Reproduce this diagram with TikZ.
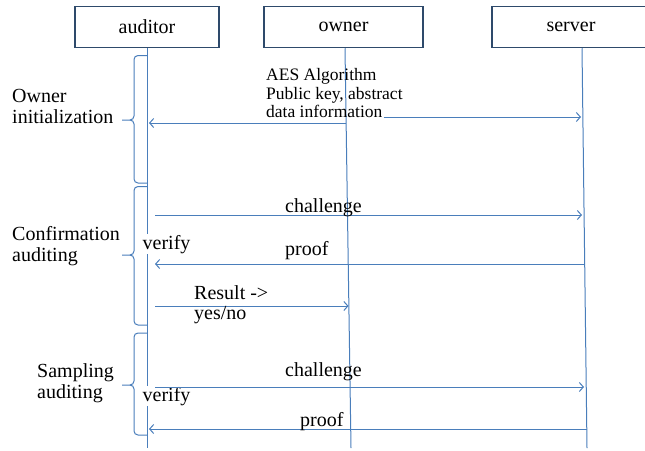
\documentclass[tikz,border=0pt]{standalone}
\usepackage{fontspec}
\setmainfont{Liberation Serif}
\usetikzlibrary{arrows.meta}
\definecolor{lineblue}{HTML}{4A7EBB}
\definecolor{boxline}{HTML}{2E4A6B}
\tikzset{
  actor/.style={draw=boxline, line width=1.5pt, fill=white, minimum height=41pt, inner sep=0pt, font=\fontsize{20}{21}\selectfont},
  lifeline/.style={draw=lineblue, line width=1pt},
  msg/.style={draw=lineblue, line width=1pt, -{Straight Barb[length=4pt,width=9pt]}},
  grp/.style={draw=lineblue, line width=1pt},
  lbl/.style={anchor=base west, inner sep=0pt, font=\fontsize{20}{21}\selectfont},
  small/.style={anchor=base west, inner sep=0pt, font=\fontsize{17.5}{18}\selectfont},
  covered/.style={lbl, fill=white, inner sep=0.5pt}
}
\begin{document}
\begin{tikzpicture}[x=1pt,y=-1pt]
\useasboundingbox (0,0) rectangle (645,450);
% actors
\node[actor, minimum width=144pt] (a) at (147,27) {auditor};
\node[actor, minimum width=159pt] (o) at (343.5,27) {owner};
\node[actor, minimum width=158pt] (s) at (571,27) {server};
% lifeline ends
\coordinate (aB) at (147.5,448);
\coordinate (oB) at (351,448);
\coordinate (sB) at (587,448);
\draw[lifeline] ([xshift=0.5pt]a.south) -- (aB);
\draw[lifeline] ([xshift=1.5pt]o.south) -- (oB);
\draw[lifeline] ([xshift=11pt]s.south) -- (sB);
% labels that hide the auditor lifeline
\node[covered] (v1) at (142,249) {verify};
\node[covered] (v2) at (142,401) {verify};
% message end points
\coordinate (a1) at (149,123);
\coordinate (o1) at (346,123);
\coordinate (s1) at (581,117);
\coordinate (a2) at (155,215);
\coordinate (s2) at (582,215);
\coordinate (a3) at (155,264);
\coordinate (s3) at (584.5,264);
\coordinate (a4) at (155,306);
\coordinate (o4) at (348.5,306);
\coordinate (a5) at (155,387);
\coordinate (s5) at (584,387);
\coordinate (a6) at (149,429);
\coordinate (s6) at (587,429);
% AES text
\node[small] (aes) at (266,80.5) {AES Algorithm};
\node[small] (pk) at (266,99.5) {Public key, abstract};
\node[small] (info) at (266,117.5) {data information};
% messages
\draw[msg] (o1) -- (a1);
\draw[msg] ([xshift=1pt]info.east |- s1) -- (s1);
\draw[msg] (a2) -- (s2);
\draw[msg] (s3) -- (a3);
\draw[msg] (a4) -- (o4);
\draw[msg] (a5) -- (s5);
\draw[msg] (s6) -- (a6);
% message labels
\node[lbl] (c1) at (285,212) {challenge};
\node[lbl] (p1) at (285,255) {proof};
\node[lbl] (r1) at (194,299) {Result ->};
\node[lbl] (r2) at (194,319) {yes/no};
\node[lbl] (c2) at (285,376) {challenge};
\node[lbl] (p2) at (300,426) {proof};
% phase labels
\node[lbl] (g1a) at (12,102.7) {Owner};
\node[lbl] (g1b) at (12,123) {initialization};
\node[lbl] (g2a) at (12,240) {Confirmation};
\node[lbl] (g2b) at (12,261.5) {auditing};
\node[lbl] (g3a) at (37,377) {Sampling};
\node[lbl] (g3b) at (37,398) {auditing};
% braces
\foreach \t/\m/\b in {55.5/120/183, 186.5/255/325, 333/385/435}{
  \draw[grp] (147.5,\t) -- (138,\t) to[out=180,in=90] (134,\t+4) -- (134,\m-4)
    to[out=-90,in=0] (130,\m) -- (122,\m);
  \draw[grp] (130,\m) to[out=0,in=90] (134,\m+4) -- (134,\b-4)
    to[out=-90,in=180] (138,\b) -- (147.5,\b);
}
\end{tikzpicture}
\end{document}
